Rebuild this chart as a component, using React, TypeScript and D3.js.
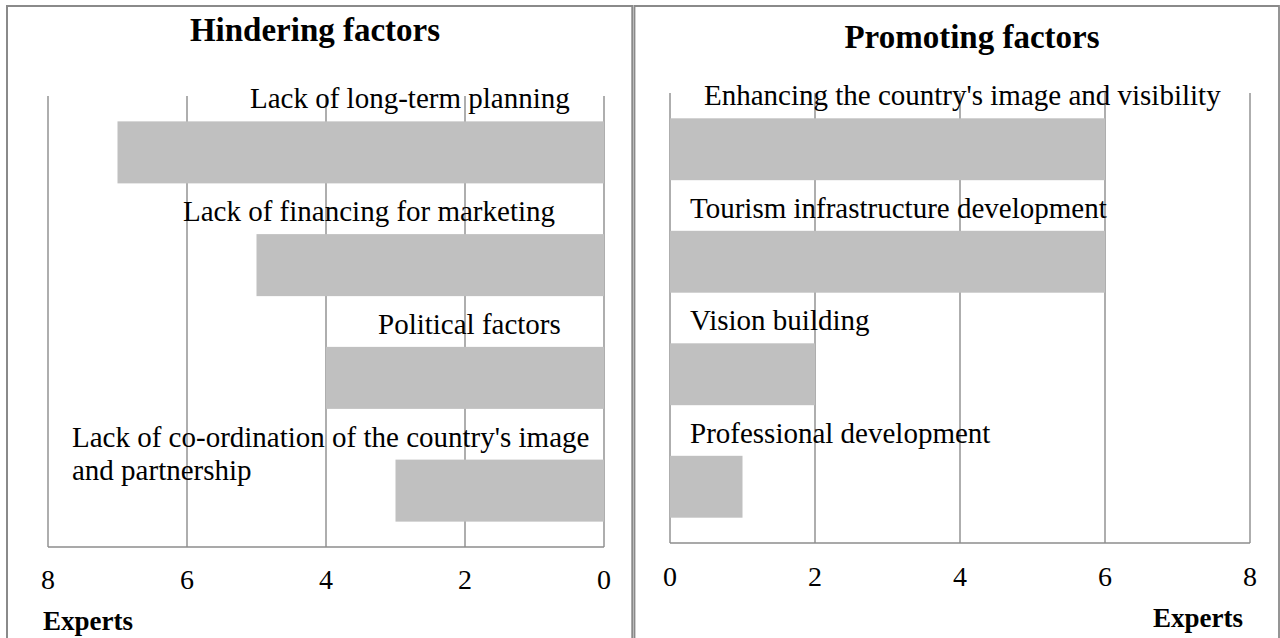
import React from "react";
import * as d3 from "d3";

const hinderCategories = [
  "Lack of long-term planning",
  "Lack of financing for marketing",
  "Political factors",
  "Lack of co-ordination of the country's image and partnership",
];
const hinderLabelLines = [
  ["Lack of long-term planning"],
  ["Lack of financing for marketing"],
  ["Political factors"],
  ["Lack of co-ordination of the country's image", "and partnership"],
];
const hinderValues = [7, 5, 4, 3];

const promoteCategories = [
  "Enhancing the country's image and visibility",
  "Tourism infrastructure development",
  "Vision building",
  "Professional development",
];
const promoteValues = [6, 6, 2, 1];

const tickValues = [0, 2, 4, 6, 8];

// layout only (label x anchors per panel)
const hinderLabelX = [250, 183, 378, 72];
const promoteLabelX = [704, 690, 690, 690];

const FONT = "'Liberation Serif', 'Times New Roman', serif";
const GRID = "#8c8c8c";
const BORDER = "#8a8a8a";
const BAR = "#c0c0c0";

type PanelProps = {
  title: string;
  titleX: number;
  titleY: number;
  categories: string[];
  labels: string[][];
  labelX: number[];
  values: number[];
  xRange: [number, number];
  yRange: [number, number];
  reversed: boolean;
  tickY: number;
  expertsX: number;
  expertsY: number;
  expertsAnchor: "start" | "end";
};

function Panel(p: PanelProps) {
  const x = d3.scaleLinear().domain([0, 8]).range(p.xRange);
  const y = d3
    .scaleBand<string>()
    .domain(p.categories)
    .range(p.yRange)
    .paddingInner(0.45)
    .paddingOuter(0.225);
  const [top, bottom] = p.yRange;
  const xMin = Math.min(...p.xRange);
  const xMax = Math.max(...p.xRange);
  return (
    <g>
      <text
        x={p.titleX}
        y={p.titleY}
        textAnchor="middle"
        fontFamily={FONT}
        fontWeight="bold"
        fontSize={33}
        fill="#000"
      >
        {p.title}
      </text>
      {tickValues.map((t) => (
        <line
          key={"g" + t}
          x1={x(t)}
          x2={x(t)}
          y1={top}
          y2={bottom}
          stroke={GRID}
          strokeWidth={1.4}
        />
      ))}
      <line x1={xMin} x2={xMax} y1={bottom} y2={bottom} stroke={GRID} strokeWidth={1.4} />
      {p.categories.map((c, i) => {
        const v = p.values[i];
        const x0 = Math.min(x(0), x(v));
        const w = Math.abs(x(v) - x(0));
        return <rect key={c} x={x0} y={y(c)!} width={w} height={y.bandwidth()} fill={BAR} />;
      })}
      {p.categories.map((c, i) => (
        <text key={"l" + c} fontFamily={FONT} fontSize={29} fill="#000">
          {p.labels[i].map((line, j) => (
            <tspan key={j} x={p.labelX[i]} y={y(c)! - 13 + j * 33}>
              {line}
            </tspan>
          ))}
        </text>
      ))}
      {tickValues.map((t) => (
        <text
          key={"t" + t}
          x={x(t)}
          y={p.tickY}
          textAnchor="middle"
          fontFamily={FONT}
          fontSize={28}
          fill="#000"
        >
          {t}
        </text>
      ))}
      <text
        x={p.expertsX}
        y={p.expertsY}
        textAnchor={p.expertsAnchor}
        fontFamily={FONT}
        fontWeight="bold"
        fontSize={27}
        fill="#000"
      >
        Experts
      </text>
    </g>
  );
}

export default function App() {
  return (
    <svg
      width={1280}
      height={638}
      style={{ position: "absolute", left: 0, top: 0, display: "block", background: "#fff" }}
    >
      <rect x={0} y={0} width={1280} height={638} fill="#fff" />
      <path d="M7,700 V6 H632.3 V700" fill="none" stroke={BORDER} strokeWidth={2} />
      <path d="M634.5,700 V6 H1279 V700" fill="none" stroke={BORDER} strokeWidth={1.8} />
      <Panel
        title="Hindering factors"
        titleX={315}
        titleY={41}
        categories={hinderCategories}
        labels={hinderLabelLines}
        labelX={hinderLabelX}
        values={hinderValues}
        xRange={[604, 48]}
        yRange={[96, 547]}
        reversed={true}
        tickY={589}
        expertsX={43}
        expertsY={630}
        expertsAnchor="start"
      />
      <Panel
        title="Promoting factors"
        titleX={972}
        titleY={48}
        categories={promoteCategories}
        labels={promoteCategories.map((c) => [c])}
        labelX={promoteLabelX}
        values={promoteValues}
        xRange={[670, 1250]}
        yRange={[93, 543]}
        reversed={false}
        tickY={586}
        expertsX={1243}
        expertsY={627}
        expertsAnchor="end"
      />
    </svg>
  );
}
